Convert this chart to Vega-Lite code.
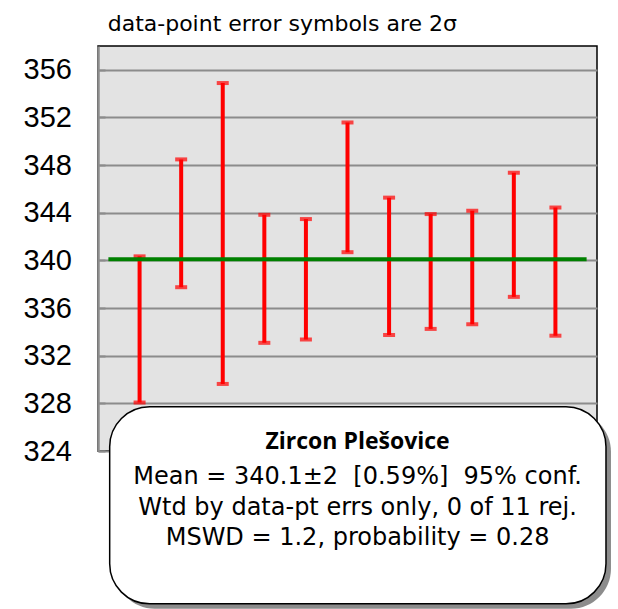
{
  "$schema": "https://vega.github.io/schema/vega-lite/v6.json",
  "autosize": "none",
  "width": 499,
  "height": 405,
  "padding": {"left": 98, "top": 46, "right": 21, "bottom": 158},
  "background": "white",
  "view": {"fill": "#e3e3e3", "stroke": "black", "strokeWidth": 1.5},
  "datasets": {
    "points": [
      {"n": 1, "lo": 328.07, "hi": 340.34},
      {"n": 2, "lo": 337.75, "hi": 348.48},
      {"n": 3, "lo": 329.63, "hi": 354.89},
      {"n": 4, "lo": 333.08, "hi": 343.83},
      {"n": 5, "lo": 333.36, "hi": 343.47},
      {"n": 6, "lo": 340.69, "hi": 351.58},
      {"n": 7, "lo": 333.74, "hi": 345.27},
      {"n": 8, "lo": 334.25, "hi": 343.89},
      {"n": 9, "lo": 334.64, "hi": 344.17},
      {"n": 10, "lo": 336.94, "hi": 347.36},
      {"n": 11, "lo": 333.68, "hi": 344.44}
    ],
    "summary": [
      {"mean": 340.1, "caption": "data-point error symbols are 2σ", "name": "Zircon Plešovice", "lines": ["Mean = 340.1±2\u00a0\u00a0[0.59%]\u00a0\u00a095% conf.", "Wtd by data-pt errs only, 0 of 11 rej.", "MSWD = 1.2, probability = 0.28"]}
    ]
  },
  "layer": [
    {
      "data": {"name": "points"},
      "mark": {"type": "rule", "color": "#ff0000", "strokeWidth": 4},
      "encoding": {
        "x": {"field": "n", "type": "quantitative", "scale": {"domain": [0, 12], "nice": false, "zero": false}, "axis": null},
        "y": {"field": "lo", "type": "quantitative", "scale": {"domain": [324, 358], "nice": false, "zero": false},
          "title": null,
          "axis": {
            "values": [324, 326, 328, 330, 332, 334, 336, 338, 340, 342, 344, 346, 348, 350, 352, 354, 356],
            "labelExpr": "datum.value % 4 == 0 ? datum.label : ''",
            "labelFont": "Liberation Sans", "labelFontSize": 29, "labelColor": "black",
            "labelPadding": 33.5,
            "grid": true, "gridColor": "#8c8c8c", "gridWidth": 2,
            "gridOpacity": {"condition": {"test": "datum.value % 4 == 0", "value": 1}, "value": 0},
            "ticks": true, "tickSize": -7, "tickColor": "#8c8c8c", "tickWidth": 2,
            "domainColor": "#8c8c8c", "domainWidth": 2.5
          }},
        "y2": {"field": "hi"}
      }
    },
    {
      "data": {"name": "points"},
      "mark": {"type": "tick", "color": "#ff0000", "orient": "horizontal", "size": 12, "thickness": 4},
      "encoding": {"x": {"field": "n", "type": "quantitative"}, "y": {"field": "hi", "type": "quantitative"}}
    },
    {
      "data": {"name": "points"},
      "mark": {"type": "tick", "color": "#ff0000", "orient": "horizontal", "size": 12, "thickness": 4},
      "encoding": {"x": {"field": "n", "type": "quantitative"}, "y": {"field": "lo", "type": "quantitative"}}
    },
    {
      "data": {"name": "summary"},
      "mark": {"type": "rule", "color": "#008000", "strokeWidth": 4},
      "encoding": {"x": {"datum": 0.25}, "x2": {"datum": 11.75}, "y": {"field": "mean", "type": "quantitative"}}
    },
    {
      "data": {"name": "summary"},
      "mark": {"type": "text", "font": "DejaVu Sans", "fontSize": 22, "align": "left", "baseline": "alphabetic", "color": "black"},
      "encoding": {"x": {"datum": 0.233}, "y": {"datum": 359.225}, "text": {"field": "caption"}}
    },
    {
      "data": {"name": "summary"},
      "mark": {"type": "rect", "fill": "#8c8c8c", "cornerRadius": 40, "xOffset": 5, "yOffset": 5, "x2Offset": 5, "y2Offset": 5},
      "encoding": {"x": {"datum": 0.281}, "x2": {"datum": 12.216}, "y": {"datum": 327.71}, "y2": {"datum": 311.17}}
    },
    {
      "data": {"name": "summary"},
      "mark": {"type": "rect", "fill": "white", "stroke": "black", "strokeWidth": 1.5, "cornerRadius": 40},
      "encoding": {"x": {"datum": 0.281}, "x2": {"datum": 12.216}, "y": {"datum": 327.71}, "y2": {"datum": 311.17}}
    },
    {
      "data": {"name": "summary"},
      "mark": {"type": "text", "font": "Open Sans", "fontWeight": "bold", "fontSize": 23, "align": "center", "baseline": "alphabetic", "color": "black"},
      "encoding": {"x": {"datum": 6.243}, "y": {"datum": 324.14}, "text": {"field": "name"}}
    },
    {
      "data": {"name": "summary"},
      "mark": {"type": "text", "font": "DejaVu Sans", "fontSize": 24, "align": "center", "baseline": "alphabetic", "lineHeight": 30.5, "color": "black"},
      "encoding": {"x": {"datum": 6.243}, "y": {"datum": 321.2}, "text": {"field": "lines"}}
    }
  ]
}
